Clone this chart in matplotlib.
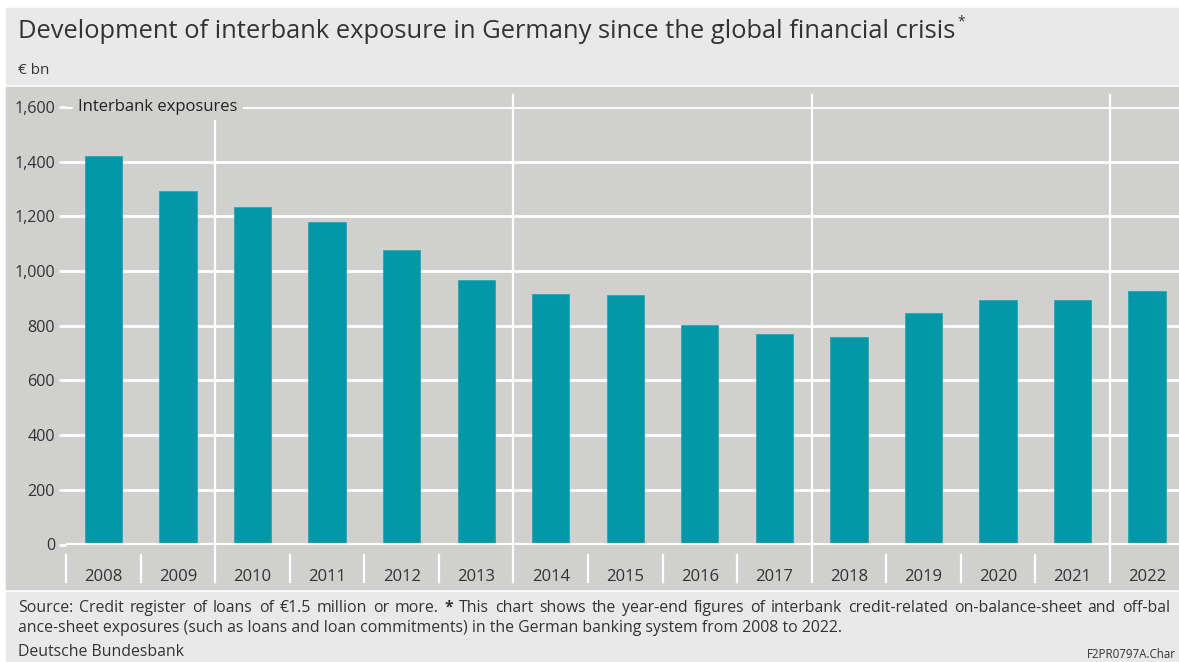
import numpy as np
import matplotlib.pyplot as plt
from matplotlib.patches import Rectangle

plt.rcParams['font.family'] = ['Open Sans', 'DejaVu Sans']

# Year-end interbank exposures, EUR bn
years = ['2008', '2009', '2010', '2011', '2012', '2013', '2014', '2015',
         '2016', '2017', '2018', '2019', '2020', '2021', '2022']
exposures = [1421, 1291, 1234, 1178, 1076, 966, 915, 912,
             801, 770, 759, 848, 893, 894, 928]
y_ticks = [0, 200, 400, 600, 800, 1000, 1200, 1400, 1600]
group_breaks = [1.5, 5.5, 9.5, 13.5]

BAR = '#0097a6'
PANEL = '#d0d0cf'
LIGHT = '#e9e9e9'
TEXT = '#333333'

W, H = 1179, 662
fig = plt.figure(figsize=(W / 100, H / 100), dpi=100)
fig.patch.set_facecolor('white')
renderer = fig.canvas.get_renderer()

def px_rect(x0, y0, x1, y1, color):
    # rectangle in pixel coords measured from the top-left corner
    fig.patches.append(Rectangle((x0 / W, 1 - y1 / H), (x1 - x0) / W, (y1 - y0) / H,
                                 transform=fig.transFigure, color=color, zorder=-10))

px_rect(6, 8, W, 84, LIGHT)
px_rect(6, 87, W, 589, PANEL)
px_rect(6, 592, W, H, LIGHT)

title = fig.text(18 / W, 1 - 31 / H,
                 'Development of interbank exposure in Germany since the global financial crisis',
                 fontsize=18.4, color=TEXT, va='center', ha='left')
tb = title.get_window_extent(renderer)
fig.text((tb.x1 + 2) / W, 1 - 22 / H, '*', fontsize=10, color=TEXT, va='center', ha='left')
fig.text(18 / W, 1 - 70 / H, '€ bn', fontsize=11, color=TEXT, va='center', ha='left')

# axes: 74.54 px per category, 0.2735 px per unit
step = 74.54
ax = fig.add_axes([(103.5 - step / 2) / W, (H - 544.5) / H, 15 * step / W, 1600 * 0.2735 / H])
ax.set_facecolor('none')
x = np.arange(len(years))
ax.bar(x, exposures, width=0.5, color=BAR, edgecolor='#2aa5b2', linewidth=0.6, zorder=3)
ax.set_xlim(-0.5, 14.5)
ax.set_ylim(0, 1600)
for s in ax.spines.values():
    s.set_visible(False)

ax.set_yticks(y_ticks)
ax.set_yticklabels([f'{v:,}' for v in y_ticks])
ax.tick_params(axis='y', length=5, width=2, color='white', labelsize=11.6, labelcolor=TEXT, pad=3)
ax.grid(axis='y', color='white', linewidth=2, zorder=1)
ax.axhline(0, color='white', linewidth=3, zorder=4)

ax.set_xticks(x)
ax.set_xticklabels(years)
ax.tick_params(axis='x', length=0, labelsize=12, labelcolor=TEXT, pad=17.5)

# separators: full height between year groups, short ones under the axis
for b in np.arange(-0.5, 14.5, 1.0):
    if b in group_breaks:
        ax.plot([b, b], [-137, 1643], color='white', lw=1.6, clip_on=False, zorder=2)
    else:
        ax.plot([b, b], [-38, -137], color='white', lw=1.6, clip_on=False, zorder=2)

ax.text(-0.34, 1600, 'Interbank exposures', fontsize=12, color='#222222', va='center', ha='left',
        bbox=dict(facecolor=PANEL, edgecolor='none', pad=4), zorder=5)

# footnote, first line set justified across the full width
foot1 = ('Source: Credit register of loans of €1.5 million or more. * This chart shows the year-end '
         'figures of interbank credit-related on-balance-sheet and off-bal')
foot2 = 'ance-sheet exposures (such as loans and loan commitments) in the German banking system from 2008 to 2022.'
fs = 11.4
words = foot1.split(' ')
arts = [fig.text(0, 1 - 608 / H, w, fontsize=fs, color=TEXT, va='center', ha='left',
                 fontweight='bold' if w == '*' else 'normal') for w in words]
widths = [a.get_window_extent(renderer).width for a in arts]
gap = (1170 - 18 - sum(widths)) / (len(words) - 1)
xpos = 18
for a, w in zip(arts, widths):
    a.set_x(xpos / W)
    xpos += w + gap
fig.text(18 / W, 1 - 628 / H, foot2, fontsize=fs, color=TEXT, va='center', ha='left')
fig.text(18 / W, 1 - 652 / H, 'Deutsche Bundesbank', fontsize=fs, color=TEXT, va='center', ha='left')
fig.text(1176 / W, 1 - 655 / H, 'F2PR0797A.Char', fontsize=8.3, color=TEXT, va='center', ha='right')

fig.savefig('out.png', dpi=100)
